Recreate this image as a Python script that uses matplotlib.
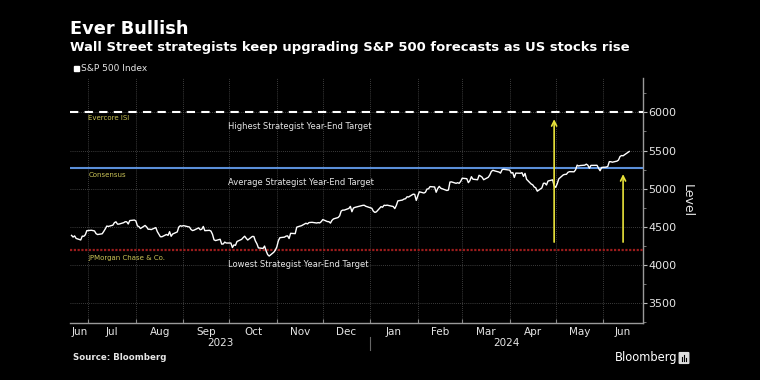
import matplotlib
matplotlib.use("Agg")
import matplotlib.pyplot as plt
from matplotlib.patches import FancyBboxPatch, Rectangle
import pandas as pd

# S&P 500 daily closes, 2023-06-20 .. 2024-06-18, one list per month
spx_jun23 = [4388, 4366, 4381, 4348, 4328, 4378, 4376, 4396, 4450]
spx_jul23 = [4455, 4446, 4411, 4399, 4409, 4439, 4472, 4510, 4505, 4522,
             4555, 4566, 4535, 4536, 4554, 4567, 4566, 4537, 4582, 4589]
spx_aug23 = [4577, 4513, 4502, 4478, 4518, 4499, 4468, 4469, 4464, 4490, 4437, 4404,
             4370, 4370, 4400, 4388, 4436, 4376, 4406, 4433, 4497, 4515, 4508]
spx_sep23 = [4516, 4497, 4465, 4451, 4457, 4487, 4462, 4468, 4505, 4450,
             4454, 4444, 4402, 4330, 4320, 4337, 4274, 4275, 4300, 4288]
spx_oct23 = [4288, 4229, 4263, 4258, 4308, 4336, 4358, 4377, 4350, 4327, 4374,
             4373, 4315, 4278, 4224, 4217, 4248, 4186, 4137, 4117, 4167, 4194]
spx_nov23 = [4237, 4318, 4358, 4365, 4378, 4382, 4347, 4415, 4411, 4496, 4503,
             4509, 4514, 4547, 4538, 4556, 4559, 4550, 4555, 4551, 4568]
spx_dec23 = [4595, 4569, 4567, 4549, 4585, 4604, 4622, 4644, 4707, 4719,
             4719, 4741, 4768, 4698, 4746, 4755, 4775, 4781, 4783, 4770]
spx_jan24 = [4743, 4705, 4689, 4697, 4764, 4757, 4783, 4780, 4784, 4766, 4739,
             4781, 4840, 4851, 4864, 4868, 4894, 4891, 4928, 4925, 4846]
spx_feb24 = [4906, 4959, 4943, 4954, 4995, 4998, 5027, 5022, 4953, 5001,
             5030, 5006, 4976, 4982, 5087, 5089, 5070, 5078, 5070, 5096]
spx_mar24 = [5137, 5131, 5079, 5105, 5157, 5124, 5117, 5175, 5165, 5150,
             5117, 5149, 5179, 5225, 5241, 5234, 5218, 5204, 5248, 5254]
spx_apr24 = [5243, 5205, 5211, 5147, 5204, 5202, 5209, 5161, 5200, 5123, 5061,
             5051, 5022, 5011, 4967, 5010, 5070, 5072, 5048, 5100, 5116, 5036]
spx_may24 = [5018, 5064, 5128, 5181, 5187, 5188, 5214, 5223, 5221, 5247, 5308,
             5297, 5303, 5308, 5321, 5307, 5268, 5305, 5306, 5267, 5235, 5278]
spx_jun24 = [5283, 5291, 5354, 5353, 5347, 5361, 5375, 5421, 5434, 5431, 5473, 5487]

spx_close = (spx_jun23 + spx_jul23 + spx_aug23 + spx_sep23 + spx_oct23 + spx_nov23
             + spx_dec23 + spx_jan24 + spx_feb24 + spx_mar24 + spx_apr24 + spx_may24 + spx_jun24)

market_holidays = ["2023-07-04", "2023-09-04", "2023-11-23", "2023-12-25", "2024-01-01",
                   "2024-01-15", "2024-02-19", "2024-03-29", "2024-05-27"]
trade_dates = pd.bdate_range("2023-06-20", "2024-06-18", freq="C", holidays=market_holidays)

target_levels = [6000, 5275, 4200]
target_names = ["Evercore ISI", "Consensus", "JPMorgan Chase & Co."]
target_notes = ["Highest Strategist Year-End Target",
                "Average Strategist Year-End Target",
                "Lowest Strategist Year-End Target"]
name_y = [5921, 5184, 4092]
note_y = [5816, 5079, 4000]

arrow_dates = ["2024-04-30", "2024-06-14"]
arrow_start = [4300, 4300]
arrow_end = [5910, 5190]

y_ticks = [3500, 4000, 4500, 5000, 5500, 6000]
month_labels = ["Jun", "Jul", "Aug", "Sep", "Oct", "Nov", "Dec",
                "Jan", "Feb", "Mar", "Apr", "May", "Jun"]
year_labels = ["2023", "2024"]

BG = "black"
GRID = "#505050"
TXT = "#e6e6e6"
NOTE_YEL = "#cbc456"

x_left = pd.Timestamp("2023-06-19")
x_right = pd.Timestamp("2024-06-27")

fig = plt.figure(figsize=(7.6, 3.8), dpi=100, facecolor=BG)
ax = fig.add_axes([70 / 760, 1 - 323 / 380, 573 / 760, 245 / 380])
ax.set_facecolor(BG)

ax.plot(trade_dates, spx_close, color="white", lw=1.0, zorder=4)

ax.axhline(target_levels[0], color="white", lw=1.5, ls=(0, (4, 3)), zorder=3)
ax.axhline(target_levels[1], color="#5b8fd9", lw=1.5, zorder=3)
ax.axhline(target_levels[2], color="#9b1c1c", lw=1.6, ls=(0, (1, 0.7)), zorder=3)

name_x = pd.Timestamp("2023-07-01")
note_x = pd.Timestamp("2023-09-30")
for nm, nt, ny, ty in zip(target_names, target_notes, name_y, note_y):
    ax.text(name_x, ny, nm, color=NOTE_YEL, fontsize=5, va="center", ha="left")
    ax.text(note_x, ty, nt, color=TXT, fontsize=6.0, va="center", ha="left")

for d, y0, y1 in zip(arrow_dates, arrow_start, arrow_end):
    ax.annotate("", xy=(pd.Timestamp(d), y1), xytext=(pd.Timestamp(d), y0),
                arrowprops=dict(arrowstyle="->", color="#e8e23a", lw=1.2,
                                mutation_scale=9, shrinkA=0, shrinkB=0), zorder=5)

ax.set_xlim(x_left, x_right)
ax.set_ylim(3240, 6450)

# month boundaries as ticks, names centred between them
month_starts = pd.date_range("2023-07-01", "2024-06-01", freq="MS")
edges = [x_left] + list(month_starts) + [x_right]
centres = [a + (b - a) / 2 for a, b in zip(edges[:-1], edges[1:])]
ax.set_xticks(month_starts)
ax.set_xticklabels([])
ax.set_xticks(centres, minor=True)
ax.set_xticklabels(month_labels, minor=True)
ax.tick_params(axis="x", which="major", direction="in", length=3, color="#888888")
ax.tick_params(axis="x", which="minor", length=0, pad=3, labelsize=7.5, labelcolor=TXT)

ax.yaxis.tick_right()
ax.yaxis.set_label_position("right")
ax.set_yticks(y_ticks)
ax.set_yticks([3250, 3750, 4250, 4750, 5250, 5750, 6250], minor=True)
ax.tick_params(axis="y", which="major", direction="out", length=3, color="#bbbbbb",
               labelsize=8, labelcolor=TXT, pad=1)
ax.tick_params(axis="y", which="minor", direction="out", length=2, color="#888888")
ax.set_ylabel("Level", rotation=270, color=TXT, fontsize=9, labelpad=12)

ax.grid(axis="both", which="major", color=GRID, ls=(0, (1, 1.5)), lw=0.6)
ax.set_axisbelow(True)

for s in ["top", "left"]:
    ax.spines[s].set_visible(False)
for s in ["right", "bottom"]:
    ax.spines[s].set_color("#9a9a9a")
    ax.spines[s].set_linewidth(1.0)

# year row
jan1 = pd.Timestamp("2024-01-01")
tr = ax.get_xaxis_transform()
ax.text(x_left + (jan1 - x_left) / 2, -0.082, year_labels[0], transform=tr,
        ha="center", va="center", color=TXT, fontsize=7.5)
ax.text(jan1 + (x_right - jan1) / 2, -0.082, year_labels[1], transform=tr,
        ha="center", va="center", color=TXT, fontsize=7.5)
ax.plot([jan1, jan1], [-0.057, -0.11], transform=tr, color="#666666", lw=0.8, clip_on=False)

# titles and legend
fig.text(70 / 760, 1 - 29 / 380, "Ever Bullish", color="white", fontsize=12.8,
         fontweight="bold", va="center", ha="left")
fig.text(70 / 760, 1 - 47 / 380,
         "Wall Street strategists keep upgrading S&P 500 forecasts as US stocks rise",
         color="white", fontsize=9.45, fontweight="bold", va="center", ha="left")
fig.patches.append(Rectangle((74 / 760, 1 - 71 / 380), 5 / 760, 5 / 380,
                             transform=fig.transFigure, color="white"))
fig.text(81 / 760, 1 - 68.5 / 380, "S&P 500 Index", color=TXT, fontsize=6.5,
         va="center", ha="left")

fig.text(73 / 760, 1 - 358 / 380, "Source: Bloomberg", color=TXT, fontsize=6.2,
         fontweight="bold", va="center", ha="left")
fig.text(677 / 760, 1 - 358 / 380, "Bloomberg", color="white", fontsize=8.3,
         va="center", ha="right")
fig.patches.append(FancyBboxPatch((680 / 760, 1 - 363 / 380), 8 / 760, 10 / 380,
                                  boxstyle="round,pad=0.001", transform=fig.transFigure,
                                  color="#dddddd"))
for i, h in enumerate([4, 6, 3]):
    fig.lines.append(plt.Line2D([(682 + 2 * i) / 760] * 2,
                                [1 - 361 / 380, 1 - (361 - h) / 380],
                                transform=fig.transFigure, color="black", lw=0.8))

fig.savefig("out.png", dpi=100, facecolor=BG)
